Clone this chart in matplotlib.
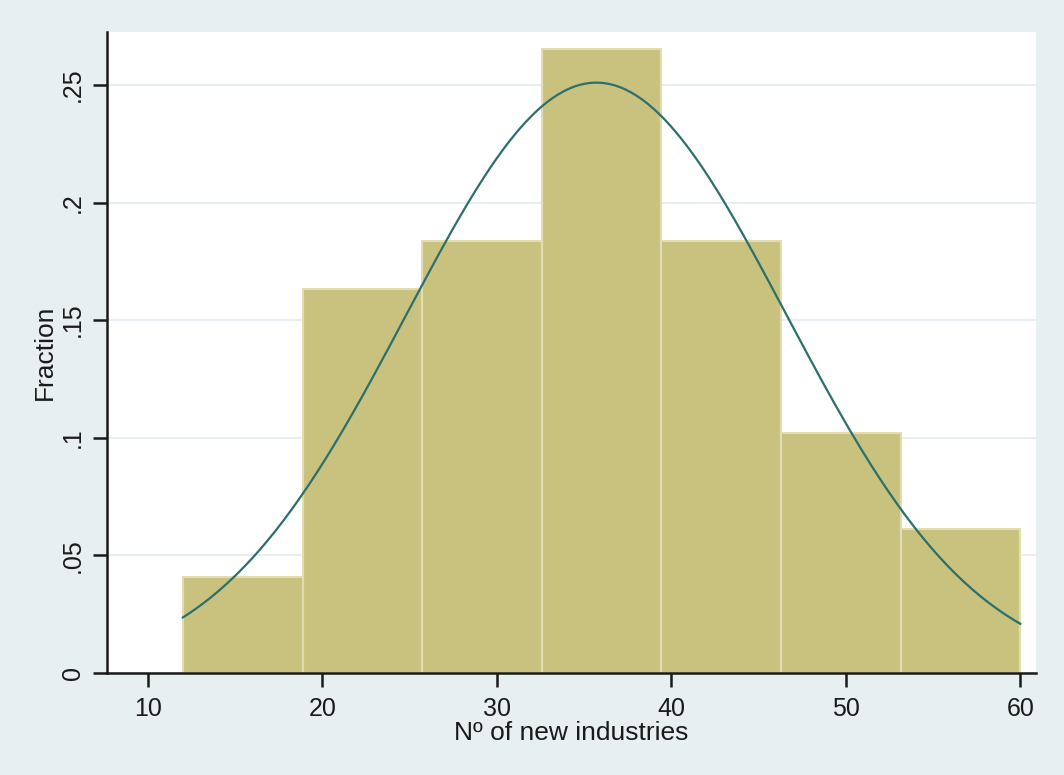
import numpy as np
import matplotlib.pyplot as plt

# histogram of new industries (fraction per bin), 49 obs
bin_edges = [12, 18.857, 25.714, 32.571, 39.429, 46.286, 53.143, 60]
fractions = [2/49, 8/49, 9/49, 13/49, 9/49, 5/49, 3/49]

# fitted normal overlay
mu = 35.7
sigma = 10.9

yticks = [0, 0.05, 0.1, 0.15, 0.2, 0.25]
ytick_labels = ["0", ".05", ".1", ".15", ".2", ".25"]
xticks = [10, 20, 30, 40, 50, 60]

plt.rcParams['font.family'] = ['Liberation Sans', 'DejaVu Sans']

fig = plt.figure(figsize=(10.64, 7.75), dpi=100)
fig.patch.set_facecolor("#e8eff1")
ax = fig.add_axes([107/1064, 102/775, 929/1064, 641/775])
ax.set_facecolor("white")

left = bin_edges[:-1]
widths = np.diff(bin_edges)
ax.bar(left, fractions, width=widths, align="edge", color="#c9c27f",
       edgecolor="#e2ddb0", linewidth=1.5, zorder=2)

xs = np.linspace(bin_edges[0], bin_edges[-1], 300)
bw = widths.mean()
ys = bw / (sigma * np.sqrt(2 * np.pi)) * np.exp(-(xs - mu) ** 2 / (2 * sigma ** 2))
ax.plot(xs, ys, color="#2d6f6b", linewidth=1.6, zorder=3)

ax.set_xlim(7.65, 60.9)
ax.set_ylim(0, 0.2725)
ax.set_yticks(yticks)
ax.set_yticklabels(ytick_labels, rotation=90, va="center")
ax.set_xticks(xticks)
ax.yaxis.grid(True, color="#e6eef1", linewidth=1.3, zorder=0)
ax.set_axisbelow(True)

for s in ["top", "right"]:
    ax.spines[s].set_visible(False)
for s in ["left", "bottom"]:
    ax.spines[s].set_linewidth(1.8)
    ax.spines[s].set_color("#1a1a1a")
ax.tick_params(axis="both", length=10, width=1.8, color="#1a1a1a",
               labelsize=18, labelcolor="#1a1a1a")
ax.tick_params(axis="x", pad=7)
ax.tick_params(axis="y", pad=6)

ax.set_xlabel("Nº of new industries", fontsize=19, labelpad=0, color="#1a1a1a")
ax.set_ylabel("Fraction", fontsize=19, labelpad=2.5, color="#1a1a1a")

fig.savefig("out.png", dpi=100, facecolor=fig.get_facecolor())
